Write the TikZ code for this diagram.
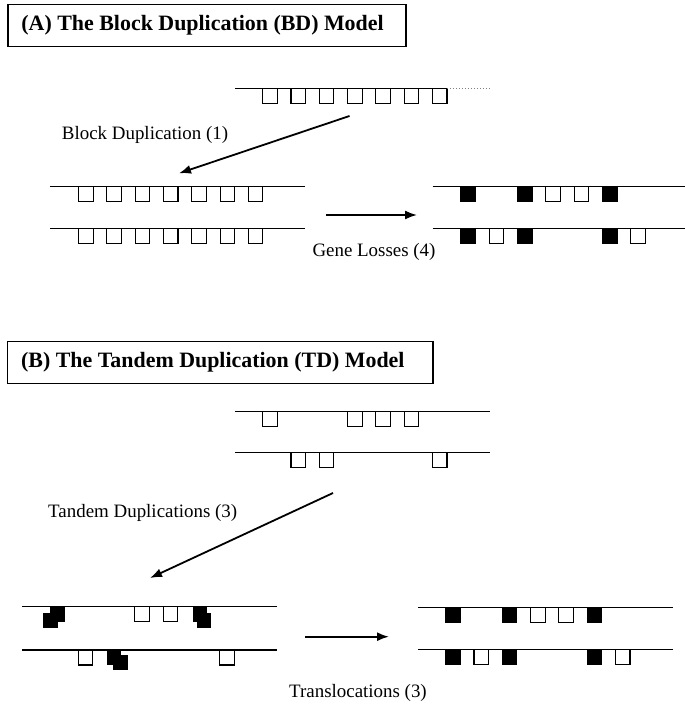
\documentclass[tikz,border=0pt]{standalone}
\usepackage{fontspec}
\setmainfont{Liberation Serif}
\usetikzlibrary{arrows.meta}
\newcommand{\chromosome}[5]{
  \draw[chromline] (#1, #3) -- (#2, #3);
  \foreach \slot/\kind in {#5}{
    \draw[genebox, fill=\kind] ({#4+28.3*\slot}, #3) rectangle ++(14.5, 15);
  }
}
\newcommand{\tandemcopy}[4]{
  \fill[black] (#1, #2) rectangle ++(14.5, 15);
  \fill[black] ({#1+#3}, {#2+#4}) rectangle ++(14.5, 15);
}

\begin{document}
\begin{tikzpicture}[x=1bp, y=-1bp]

\tikzset{ chromline/.style={line width=1.2bp},
  genebox/.style={line width=1.1bp},
  titlebox/.style={draw, line width=1.3bp, anchor=north west, inner xsep=13.5bp,
    font={\fontsize{22}{24}\selectfont\bfseries}},
  caption/.style={inner sep=0pt, font={\fontsize{19}{21}\selectfont}},
  bigarrow/.style={-{Latex[length=12bp, width=9bp]}, line width=1.8bp}
}
\useasboundingbox (0,0) rectangle (685,706);

% (A) block duplication
\node[titlebox, minimum height=41.7bp] (titleA) at (7.3,4)
  {\makebox[371bp][l]{(A) The Block Duplication (BD) Model}};

\chromosome{235}{447}{88.3}{262.7}{0/white,1/white,2/white,3/white,4/white,5/white,6/white}
\draw[dotted, line width=1bp, gray] (447,88.3) -- (489,88.3);

\coordinate (bdStart) at (349.5,116);
\coordinate (bdEnd) at (179,173.3);
\draw[bigarrow] (bdStart) -- (bdEnd);
\node[caption] (bdLabel) at (145,135) {Block Duplication (1)};

\chromosome{50}{305}{186.7}{78.6}{0/white,1/white,2/white,3/white,4/white,5/white,6/white}
\chromosome{50}{305}{228.3}{78.6}{0/white,1/white,2/white,3/white,4/white,5/white,6/white}

\coordinate (lossStart) at (325.5,215);
\coordinate (lossEnd) at (417,215);
\draw[bigarrow] (lossStart) -- (lossEnd);
\node[caption] (lossLabel) at (374,252) {Gene Losses (4)};

\chromosome{432.5}{685}{186.7}{461}{0/black,2/black,3/white,4/white,5/black}
\chromosome{432.5}{685}{228.3}{461}{0/black,1/white,2/black,5/black,6/white}

% (B) tandem duplication
\node[titlebox, minimum height=41.8bp] (titleB) at (7,340.7)
  {\makebox[398.3bp][l]{(B) The Tandem Duplication (TD) Model}};

\chromosome{235}{490}{411.7}{262.7}{0/white,3/white,4/white,5/white}
\chromosome{235}{490}{452.7}{262.7}{1/white,2/white,6/white}

\coordinate (tdStart) at (333,493);
\coordinate (tdEnd) at (150,578);
\draw[bigarrow] (tdStart) -- (tdEnd);
\node[caption, anchor=west] (tdLabel) at (48,513) {Tandem Duplications (3)};

\chromosome{22}{277}{606.7}{50}{3/white,4/white}
\tandemcopy{50}{606.7}{-6.7}{6.7}
\tandemcopy{192.7}{606.7}{4}{6.7}
\chromosome{22}{277}{650}{50}{1/white,6/white}
\tandemcopy{106.7}{650}{6.7}{5}

\coordinate (transStart) at (305,636.7);
\coordinate (transEnd) at (389,636.7);
\draw[bigarrow] (transStart) -- (transEnd);
\node[caption] (transLabel) at (358,692.7) {Translocations (3)};

\chromosome{418}{673}{607.7}{445.7}{0/black,2/black,3/white,4/white,5/black}
\chromosome{418}{673}{649.3}{445.7}{0/black,1/white,2/black,5/black,6/white}

\end{tikzpicture}
\end{document}
